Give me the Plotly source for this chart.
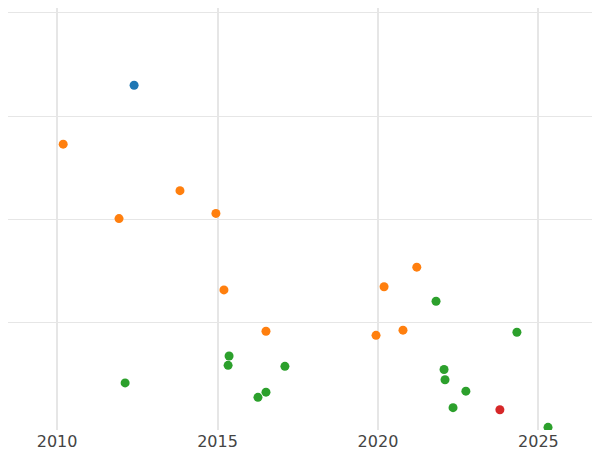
import plotly.graph_objects as go

blue_x = [2012.40]
blue_y = [3.30]
orange_x = [2010.19, 2011.93, 2013.83, 2014.95, 2015.20, 2016.51, 2019.94, 2020.19, 2020.78, 2021.21]
orange_y = [2.73, 2.01, 2.28, 2.06, 1.32, 0.92, 0.88, 1.35, 0.93, 1.54]
green_x = [2012.12, 2015.33, 2015.36, 2016.26, 2016.51, 2017.10, 2021.81, 2022.06, 2022.09, 2022.34, 2022.74, 2024.33, 2025.30]
green_y = [0.42, 0.59, 0.68, 0.28, 0.33, 0.58, 1.21, 0.55, 0.45, 0.18, 0.34, 0.91, -0.01]
red_x = [2023.80]
red_y = [0.16]

fig = go.Figure()
for xs, ys, c in [(blue_x, blue_y, "#1f77b4"), (orange_x, orange_y, "#ff7f0e"),
                  (green_x, green_y, "#2ca02c"), (red_x, red_y, "#d62728")]:
    fig.add_trace(go.Scatter(x=xs, y=ys, mode="markers", marker=dict(color=c, size=9), showlegend=False))

fig.update_layout(
    width=592, height=442, margin=dict(l=0, r=0, t=0, b=20),
    plot_bgcolor="white", paper_bgcolor="white",
    font=dict(family="DejaVu Sans", size=16, color="#444"),
)
fig.update_xaxes(range=[2008.47, 2026.92], tickvals=[2010, 2015, 2020, 2025],
                 showgrid=True, gridcolor="#e6e6e6", gridwidth=2, zeroline=False, ticks="")
fig.update_yaxes(range=[-0.036, 4.048], tickvals=[1, 2, 3, 4], showticklabels=False,
                 showgrid=True, gridcolor="#e6e6e6", gridwidth=1, zeroline=False)
fig.write_html("out.html")
